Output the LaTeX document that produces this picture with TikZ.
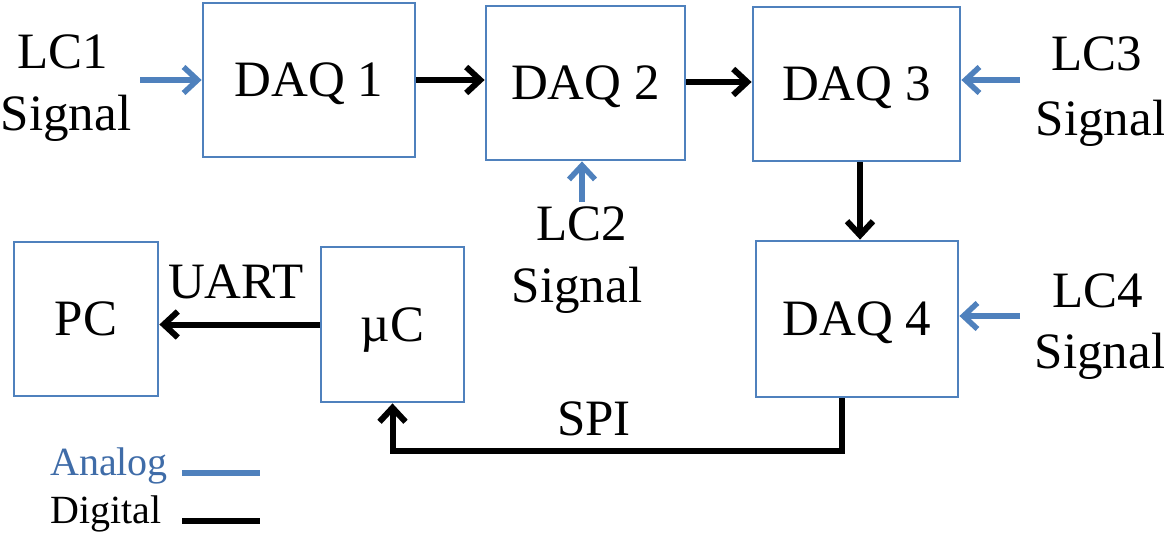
\documentclass[tikz,border=0pt]{standalone}
\usepackage{fontspec}
\setmainfont{Liberation Serif}
\usetikzlibrary{arrows.meta}
\definecolor{boxblue}{HTML}{4F81BD}
\definecolor{legblue}{HTML}{3F6CA8}
\tikzset{
  blk/.style={draw=boxblue, line width=2.8pt, fill=white, inner sep=0pt,
    font=\fontsize{51}{60}\selectfont, text height=33.8pt, text depth=0pt},
  lbl/.style={inner sep=0pt, anchor=base, font=\fontsize{51}{60}\selectfont},
  leg/.style={inner sep=0pt, anchor=base west, font=\fontsize{40}{46}\selectfont},
  analog/.style={draw=boxblue, line width=5.5pt, -{Straight Barb[length=14pt,width=26pt]}},
  digital/.style={draw=black, line width=6pt, -{Straight Barb[length=14pt,width=26pt]}},
}
\begin{document}
\begin{tikzpicture}[x=1pt,y=-1pt]
\useasboundingbox (0,0) rectangle (1164,533);

% processing blocks
\node[blk, minimum width=212pt, minimum height=154pt] (daq1) at (309,80) {DAQ 1};
\node[blk, minimum width=199pt, minimum height=154pt] (daq2) at (585.5,83) {DAQ 2};
\node[blk, minimum width=207pt, minimum height=154pt] (daq3) at (856.5,84) {DAQ 3};
\node[blk, minimum width=202pt, minimum height=156pt] (daq4) at (857,319) {DAQ 4};
\node[blk, minimum width=143pt, minimum height=155pt] (uc) at (392.5,324.5) {µC};
\node[blk, minimum width=144pt, minimum height=154pt] (pc) at (86,319) {PC};

% load cell inputs
\node[lbl] (lc1) at (63,68) {LC1};
\node[lbl] (lc1s) at (66,130) {Signal};
\node[lbl] (lc2) at (582,240) {LC2};
\node[lbl] (lc2s) at (577,302) {Signal};
\node[lbl] (lc3) at (1097,70) {LC3};
\node[lbl] (lc3s) at (1101,135) {Signal};
\node[lbl] (lc4) at (1098,307) {LC4};
\node[lbl] (lc4s) at (1100,368) {Signal};

% bus labels
\node[lbl] (uart) at (236,298) {UART};
\node[lbl] (spi) at (594,435) {SPI};

% free ends of the analog inputs
\coordinate (in1) at (140,80);
\coordinate (in3) at (1020,80);
\coordinate (in4) at (1020,316);
\coordinate (spiturn) at (842,451);

% analog connections
\draw[analog] (in1) -- (in1 -| daq1.west);
\draw[analog] ([yshift=4pt]lc2.north) -- (lc2.north |- daq2.south);
\draw[analog] (in3) -- (in3 -| daq3.east);
\draw[analog] (in4) -- (in4 -| daq4.east);

% digital connections
\draw[digital] (daq1.east |- 0,80) -- (daq2.west |- 0,80);
\draw[digital] (daq2.east |- 0,82) -- (daq3.west |- 0,82);
\draw[digital] (daq3.south -| 860,0) -- (daq4.north -| 860,0);
\draw[digital] (uc.west) -- (uc.west -| pc.east);
\draw[digital] (spiturn |- daq4.south) -- (spiturn) -| (uc.south);

% legend
\node[leg, text=legblue] (lega) at (50,475) {Analog};
\node[leg] (legd) at (50,523) {Digital};
\coordinate (la) at (182,473);
\coordinate (ld) at (182,521);
\draw[draw=boxblue, line width=5.5pt] (la) -- ++(78,0);
\draw[draw=black, line width=6pt] (ld) -- ++(78,0);
\end{tikzpicture}
\end{document}
